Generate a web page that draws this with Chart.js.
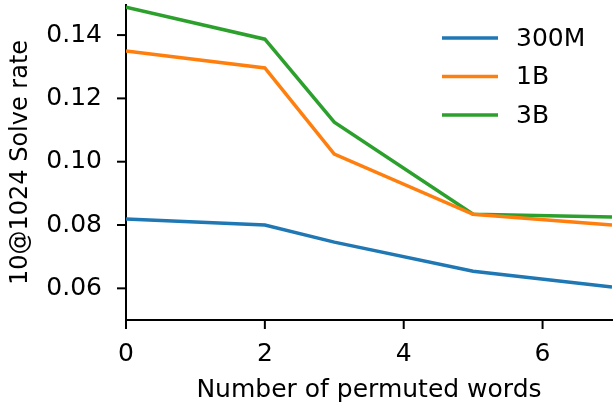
<!DOCTYPE html>
<html>
<head>
<meta charset="utf-8">
<script src="https://cdn.jsdelivr.net/npm/chart.js@4/dist/chart.umd.min.js"></script>
<style>
html,body{margin:0;padding:0;background:#fff;}
#wrap{width:613px;height:405px;position:relative;}
</style>
</head>
<body>
<div id="wrap"><canvas id="c" width="613" height="405"></canvas></div>
<script>
const xValues = [0, 2, 3, 5, 7];
const seriesNames = ['300M', '1B', '3B'];
const s300M = [0.0819, 0.0800, 0.0746, 0.0654, 0.0604];
const s1B   = [0.1350, 0.1296, 0.1024, 0.0834, 0.0800];
const s3B   = [0.1488, 0.1387, 0.1125, 0.0834, 0.0825];
const xTicks = [0, 2, 4, 6];
const yTicks = [0.06, 0.08, 0.10, 0.12, 0.14];
const xTitle = 'Number of permuted words';
const yTitle = '10@1024 Solve rate';
const colors = ['#1f77b4', '#ff7f0e', '#2ca02c'];

const allSeries = [s300M, s1B, s3B];
const datasets = allSeries.map((s, i) => ({
  label: seriesNames[i],
  data: xValues.map((x, j) => ({x: x, y: s[j]})),
  borderColor: colors[i],
  backgroundColor: colors[i],
  borderWidth: 3.5,
  pointRadius: 0,
  tension: 0,
  fill: false
}));

const FONT = "'DejaVu Sans', sans-serif";
const FS = 25;

const legendPlugin = {
  id: 'mplLegend',
  afterDraw(chart) {
    const ctx = chart.ctx;
    ctx.save();
    ctx.font = FS + "px " + FONT;
    ctx.textBaseline = 'middle';
    ctx.fillStyle = '#000';
    chart.data.datasets.forEach((ds, i) => {
      const y = 38 + i * 38.5;
      ctx.strokeStyle = ds.borderColor;
      ctx.lineWidth = 3.5;
      ctx.beginPath();
      ctx.moveTo(442, y);
      ctx.lineTo(498, y);
      ctx.stroke();
      ctx.fillText(ds.label, 516, y + 1);
    });
    ctx.restore();
  }
};

const axisDecorPlugin = {
  id: 'axisDecor',
  afterDraw(chart) {
    const ctx = chart.ctx;
    const xs = chart.scales.x, ys = chart.scales.y;
    const ca = chart.chartArea;
    ctx.save();
    ctx.strokeStyle = '#000';
    ctx.lineWidth = 2;
    xTicks.forEach(v => {
      const px = xs.getPixelForValue(v);
      ctx.beginPath(); ctx.moveTo(px, ca.bottom); ctx.lineTo(px, ca.bottom + 9); ctx.stroke();
    });
    yTicks.forEach(v => {
      const py = ys.getPixelForValue(v);
      ctx.beginPath(); ctx.moveTo(ca.left, py); ctx.lineTo(ca.left - 9, py); ctx.stroke();
    });
    // y-axis title, centred on the plot area like matplotlib
    ctx.fillStyle = '#000';
    ctx.font = "24px " + FONT;
    ctx.textAlign = 'center';
    ctx.textBaseline = 'middle';
    ctx.translate(21, (ca.top + ca.bottom) / 2);
    ctx.rotate(-Math.PI / 2);
    ctx.fillText(yTitle, 0, 0);
    ctx.restore();
  }
};

new Chart(document.getElementById('c'), {
  type: 'line',
  data: { datasets: datasets },
  plugins: [legendPlugin, axisDecorPlugin],
  options: {
    responsive: false,
    animation: false,
    layout: { padding: { top: 5, right: 1, left: 0, bottom: 0 } },
    plugins: { legend: { display: false }, tooltip: { enabled: false } },
    scales: {
      x: {
        type: 'linear',
        min: 0, max: 7,
        afterBuildTicks(scale) { scale.ticks = xTicks.map(v => ({value: v})); },
        afterFit(scale) { scale.height = 85; scale.paddingLeft = 0; scale.paddingRight = 0; },
        ticks: { color: '#000', font: { family: FONT, size: FS }, padding: 11, maxRotation: 0,
                 callback: v => String(v) },
        grid: { display: false },
        border: { display: true, color: '#000', width: 2 },
        title: { display: true, text: xTitle, color: '#000',
                 font: { family: FONT, size: FS }, padding: { top: 0, bottom: 0 } }
      },
      y: {
        type: 'linear',
        min: 0.05, max: 0.1495,
        afterBuildTicks(scale) { scale.ticks = yTicks.map(v => ({value: v})); },
        afterFit(scale) { scale.width = 126; scale.paddingTop = 0; scale.paddingBottom = 0; },
        ticks: { color: '#000', font: { family: FONT, size: FS }, padding: 16,
                 callback: v => v.toFixed(2) },
        grid: { display: false },
        border: { display: true, color: '#000', width: 2 },
        title: { display: false }
      }
    }
  }
});
</script>
</body>
</html>
